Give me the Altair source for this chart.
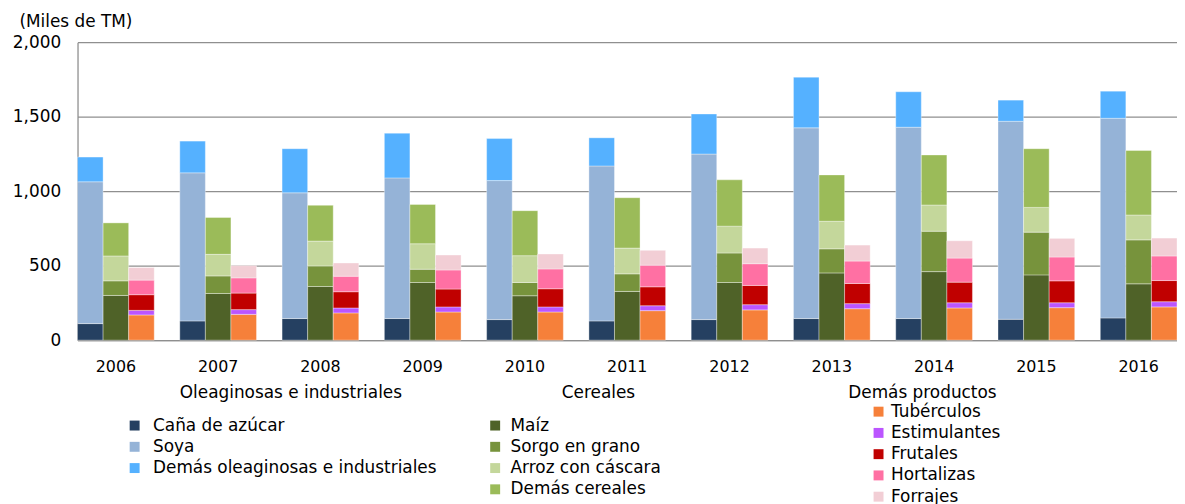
import altair as alt
import pandas as pd

years = [str(y) for y in range(2006, 2017)]

# Oleaginosas e industriales (miles de TM)
cana = [111, 129, 145, 145, 138, 129, 138, 145, 145, 140, 149]
soya = [952, 994, 844, 944, 933, 1040, 1111, 1280, 1284, 1329, 1340]
demas_oleag = [166, 213, 296, 300, 282, 189, 269, 340, 238, 142, 182]

# Cereales
maiz = [300, 313, 360, 387, 298, 327, 387, 451, 460, 438, 378]
sorgo = [98, 118, 138, 89, 89, 118, 198, 162, 271, 287, 295]
arroz = [167, 145, 167, 171, 180, 173, 180, 185, 176, 166, 167]
demas_cereales = [222, 247, 240, 264, 302, 338, 311, 311, 336, 394, 433]

# Demás productos
tuberculos = [169, 173, 183, 189, 189, 198, 203, 211, 216, 218, 223]
estimulantes = [31, 32, 33, 34, 34, 33, 35, 34, 35, 33, 35]
frutales = [105, 111, 109, 120, 122, 127, 129, 135, 138, 147, 142]
hortalizas = [98, 102, 104, 128, 133, 145, 146, 151, 162, 160, 165]
forrajes = [84, 82, 89, 100, 100, 100, 105, 107, 116, 125, 120]

grupos = ["Oleaginosas e industriales", "Cereales", "Demás productos"]

prod_oleag = ["Caña de azúcar", "Soya", "Demás oleaginosas e industriales"]
prod_cereales = ["Maíz", "Sorgo en grano", "Arroz con cáscara", "Demás cereales"]
prod_demas = ["Tubérculos", "Estimulantes", "Frutales", "Hortalizas", "Forrajes"]

col_oleag = ["#254061", "#95b3d7", "#55b1ff"]
col_cereales = ["#4f6228", "#77933c", "#c4d79b", "#9bbb59"]
col_demas = ["#f6803a", "#bb55ff", "#c00000", "#ff70a3", "#f2ced5"]

series = {
    "Caña de azúcar": cana, "Soya": soya, "Demás oleaginosas e industriales": demas_oleag,
    "Maíz": maiz, "Sorgo en grano": sorgo, "Arroz con cáscara": arroz, "Demás cereales": demas_cereales,
    "Tubérculos": tuberculos, "Estimulantes": estimulantes, "Frutales": frutales,
    "Hortalizas": hortalizas, "Forrajes": forrajes,
}

rows = []
for grupo, prods in zip(grupos, [prod_oleag, prod_cereales, prod_demas]):
    for k, p in enumerate(prods):
        for y, v in zip(years, series[p]):
            rows.append({"anio": y, "grupo": grupo, "producto": p, "orden": k, "valor": v})
df = pd.DataFrame(rows)

FONT = "DejaVu Sans"
GRID = "#8f8f8f"
NB = "\u00a0"
ZW = "\u200b"

x_enc = alt.X("anio:O", title=None,
              scale=alt.Scale(paddingInner=0.25, paddingOuter=0),
              axis=alt.Axis(labelAngle=0, labelFontSize=16, labelFont=FONT, labelColor="black",
                            labelPadding=19, ticks=False, tickSize=0, domainColor=GRID,
                            domainWidth=1.3, grid=False))
xo_enc = alt.XOffset("grupo:N", scale=alt.Scale(domain=grupos, paddingInner=0, paddingOuter=0))
y_enc = alt.Y("valor:Q", stack="zero",
              scale=alt.Scale(domain=[0, 2000], nice=False),
              axis=alt.Axis(values=[0, 500, 1000, 1500, 2000], format=",.0f",
                            title="(Miles de TM)", titleAngle=0, titleX=-59, titleY=-15.5,
                            titleAlign="left", titleBaseline="alphabetic",
                            titleFontSize=17, titleFontWeight="normal", titleFont=FONT,
                            titleColor="black",
                            labelFontSize=17, labelFont=FONT, labelColor="black",
                            labelPadding=17, ticks=False, tickSize=0,
                            domainColor=GRID, domainWidth=1.3,
                            gridColor=GRID, gridWidth=1.3))


def capa(grupo, titulo, prods, cols, lx, ly, sym_off, lab_off, tpad):
    d = df[df["grupo"] == grupo]
    return alt.Chart(d).mark_bar(stroke="white", strokeWidth=0.6, strokeOpacity=0.6).encode(
        x=x_enc,
        xOffset=xo_enc,
        y=y_enc,
        color=alt.Color("producto:N",
                        scale=alt.Scale(domain=prods, range=cols),
                        legend=alt.Legend(title=titulo, orient="none", legendX=lx, legendY=ly,
                                          direction="vertical", symbolType="square",
                                          symbolSize=100, symbolStrokeWidth=0,
                                          symbolOffset=sym_off, labelOffset=lab_off,
                                          titlePadding=tpad, rowPadding=3.4, padding=0,
                                          titleAnchor="start", titleAlign="left",
                                          labelFontSize=17, titleFontSize=17,
                                          titleFontWeight="normal", labelFont=FONT,
                                          titleFont=FONT, titleColor="black",
                                          labelColor="black", labelLimit=400, titleLimit=400)),
        order=alt.Order("orden:Q"),
    )


chart = alt.layer(
    capa(grupos[0], ZW + NB * 10 + grupos[0], prod_oleag, col_oleag, 49, 345, 0, 10, 15.5),
    capa(grupos[1], ZW + NB * 14 + grupos[1], prod_cereales, col_cereales, 412, 345, 0, 7, 15.5),
    capa(grupos[2], grupos[2], prod_demas, col_demas, 776, 345, 22, 4, 1.5),
).resolve_scale(color="independent").properties(
    width=1107, height=300,
    autosize=alt.AutoSizeParams(type="none"),
    padding={"left": 70, "top": 32.7, "right": 0, "bottom": 170},
).configure_view(stroke=None)

chart.save("out.html", embed_options={"renderer": "svg", "actions": False})
